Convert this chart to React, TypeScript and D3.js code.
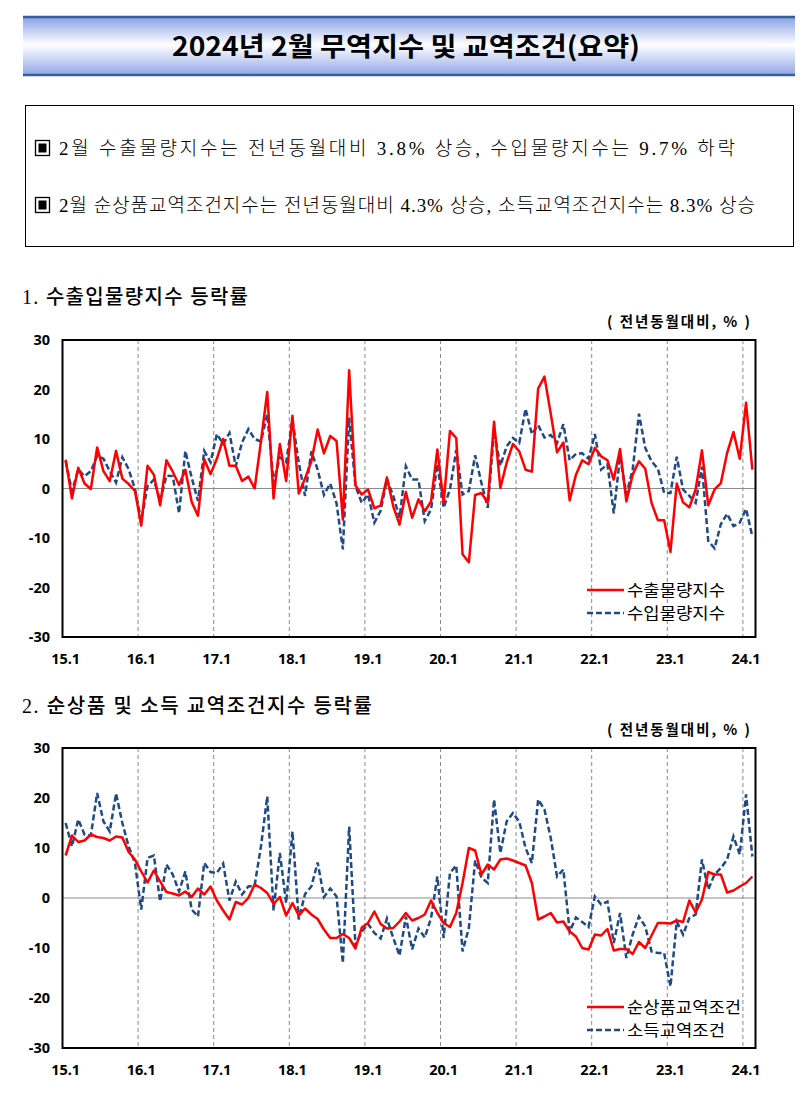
import React from "react";
import * as d3 from "d3";

const yearLabels = ["15.1", "16.1", "17.1", "18.1", "19.1", "20.1", "21.1", "22.1", "23.1", "24.1"];
const yTicks = [-30, -20, -10, 0, 10, 20, 30];

// 2015.1 ~ 2024.2 monthly, YoY %
const exportVolume = [
  5.8, -2, 4.2, 1, -0.1, 8.3, 3.5, 1.5, 7.6, 2, 0.9, -0.5,
  -7.5, 4.6, 2.8, -3.4, 5.7, 3.4, 0.7, 3.8, -2.7, -5.5, 5.9, 2.9,
  6, 10, 4.6, 4.6, 1.5, 2.4, 0, 9.5, 19.5, -2, 9, 1.5,
  14.7, -1, 2, 5.5, 11.9, 7.1, 10.6, 9.6, -6.3, 23.9, 0.6, -1.2,
  -0.2, -4, -3.4, 2.2, -3.6, -7.3, -0.7, -5.9, -2.2, -4.6, -2.6, 7.9,
  -2.9, 11.6, 10.2, -13.3, -14.9, -1.3, -0.9, -2.9, 13.5, 0.1, 5.2, 9,
  7.5, 3.8, 3.4, 20.2, 22.6, 15.1, 7.3, 9.3, -2.4, 2.8, 5.7, 4.9,
  8.2, 6.5, 5.7, 1.8, 8, -2.6, 2.8, 5.5, 4, -2.9, -6.4, -6.4,
  -12.8, 1, -2.8, -3.8, -0.2, 7.7, -3.4, -0.2, 1.1, 7.2, 11.4, 6,
  17.3, 3.8,
];
const importVolume = [
  5.5, -0.5, 3.8, 2.5, 3.5, 6.6, 6, 3.5, 1.2, 6.3, 3.9, -0.1,
  -6.5, 0.5, 1.8, -2.5, 2.6, 2.5, -5, 7.6, 2.2, -2.5, 7.6, 5.3,
  11, 9, 11.2, 4.5, 9.3, 12, 10, 9.5, 15, 1.2, 6.3, 5.3,
  13.9, 5.2, -1.5, 7.5, 3.8, -1.3, 1, -3, -12.3, 14.3, 0.5, -2.9,
  -1.2, -6.9, -4.5, 1.8, -1.5, -5.9, 4.5, 1.8, 1.8, -6.6, -4.2, 4.9,
  -3.9, -0.2, 7.8, -1.2, -0.5, 6.7, 1.1, -3.9, 11.6, 4.6, 8.5, 10.2,
  9.2, 16.1, 11, 12.8, 10.3, 10.8, 9.2, 13, 5.7, 7, 7.1, 6,
  11, 3.8, 4.9, -5, 6.5, -1.2, 3.8, 15.1, 8.2, 5.5, 4, -0.9,
  -0.9, 6.4, -0.2, -1.5, -2.9, 4.4, -10.6, -12.1, -7.2, -5.1, -7.6, -6.9,
  -4.1, -9.7,
];
const netTerms = [
  8.5, 12.5, 11.2, 11.5, 12.7, 12.2, 12, 11.5, 12.3, 12.1, 9.2, 7.7,
  5.3, 3.1, 5.5, 3.3, 1.2, 0.9, 0.5, 1.3, 0.2, 1.9, 0.7, 2.3,
  -0.5, -2.5, -4.3, -0.8, -1.3, 0, 2.7, 2, 1, -1.2, 0.2, -3.5,
  -1, -3.5, -2.1, -3.3, -4.2, -6.3, -8, -8, -7.2, -8, -10.1, -5.9,
  -5, -2.7, -5.2, -6.1, -6, -4.7, -3, -4.5, -4, -3.3, -0.5, -3,
  -5, -5.8, -3, 3, 10, 9.5, 4.7, 6.7, 5.7, 7.7, 7.9, 7.5,
  7, 6.5, 3, -4.3, -3.7, -3, -4.9, -4.7, -6.7, -7.7, -10, -10.3,
  -7.3, -7.5, -6.2, -10.5, -10.2, -10.2, -11.2, -8.8, -10, -7.5, -5, -5,
  -5.1, -4.5, -4.8, -0.5, -2.9, -0.3, 5.2, 4.7, 4.7, 1.1, 1.5, 2.3,
  3, 4.3,
];
const incomeTerms = [
  15, 10.3, 15.7, 12.7, 12.5, 21, 15.3, 13.3, 20.9, 15, 10.3, 7,
  -2.3, 8, 8.5, -0.7, 6.7, 4.7, 1.3, 5.3, -2.3, -3.7, 7, 5.2,
  5, 6.9, -0.5, 3.3, 0.7, 2.3, 2.5, 10.3, 20.3, -2.5, 9, -1,
  13.3, -4.3, 0.8, 2.3, 7.1, 0.2, 1.9, 0.3, -13, 14.3, -9.5, -6.7,
  -5.2, -7, -8.1, -4.1, -8, -11.5, -3.7, -10.3, -6.1, -7.9, -4, 4.3,
  -8, 5, 6.5, -10.7, -6, 7.5, 4.1, 3, 19.7, 9, 15.3, 17,
  15.3, 10, 7, 19.7, 17.7, 12, 4.3, 5.7, -6.7, -3.9, -4.8, -5.8,
  0.3, -1.3, -0.7, -9, -3, -12, -7.3, -3.7, -5.7, -10.7, -11, -11,
  -17.7, -4.7, -7.3, -4, -3.3, 7.7, 1.7, 4.7, 6, 7.7, 12.3, 8.7,
  20.7, 8.3,
];

const SANS = "'Noto Sans CJK KR', 'Noto Sans', sans-serif";
const SERIF = "'Liberation Serif', 'Noto Sans CJK KR', serif";
const LABEL = "'Noto Sans', 'Noto Sans CJK KR', sans-serif";

const X0 = 62.5;
const X1 = 755.5;
const N = exportVolume.length;

type ChartProps = {
  top: number;
  bottom: number;
  a: number[];
  b: number[];
  nameA: string;
  nameB: string;
  lenA: number;
  lenB: number;
  legendY: number;
};

function Chart({ top, bottom, a, b, nameA, nameB, lenA, lenB, legendY }: ChartProps) {
  const xl = d3.scaleLinear().domain([0, N]).range([X0, X1]);
  const y = d3.scaleLinear().domain([-30, 30]).range([bottom, top]);
  const line = d3
    .line<number>()
    .x((_, i) => xl(i + 0.5))
    .y((d) => y(d));
  return (
    <g>
      {yearLabels.slice(1).map((_, k) => (
        <line
          key={"g" + k}
          x1={xl((k + 1) * 12)}
          x2={xl((k + 1) * 12)}
          y1={top}
          y2={bottom}
          stroke="#8a8a8a"
          strokeWidth={1}
          strokeDasharray="4,3"
        />
      ))}
      <line x1={X0} x2={X1} y1={y(0)} y2={y(0)} stroke="#8c8c8c" strokeWidth={1.2} />
      <path d={line(b) || ""} fill="none" stroke="#1f4a86" strokeWidth={2.5} strokeDasharray="6,3" />
      <path d={line(a) || ""} fill="none" stroke="#ff0000" strokeWidth={2.5} strokeLinejoin="round" />
      <rect x={X0} y={top} width={X1 - X0} height={bottom - top} fill="none" stroke="#000" strokeWidth={2} />
      {yTicks.map((t) => (
        <text
          key={"y" + t}
          x={50}
          y={y(t)}
          dy="0.36em"
          textAnchor="end"
          fontFamily={LABEL}
          fontWeight="bold"
          fontSize={14.5}
        >
          {t}
        </text>
      ))}
      {yearLabels.map((l, k) => (
        <text
          key={"x" + l}
          x={xl(k * 12 + 0.5)}
          y={bottom + 27}
          textAnchor="middle"
          fontFamily={LABEL}
          fontWeight="bold"
          fontSize={14.5}
        >
          {l}
        </text>
      ))}
      <line x1={587} x2={624} y1={legendY} y2={legendY} stroke="#ff0000" strokeWidth={2.5} />
      <text x={627} y={legendY} dy="0.36em" fontFamily={SANS} fontSize={16.4} textLength={lenA} lengthAdjust="spacingAndGlyphs">
        {nameA}
      </text>
      <line x1={587} x2={624} y1={legendY + 23} y2={legendY + 23} stroke="#1f4a86" strokeWidth={2.5} strokeDasharray="6,3" />
      <text x={627} y={legendY + 23} dy="0.36em" fontFamily={SANS} fontSize={16.4} textLength={lenB} lengthAdjust="spacingAndGlyphs">
        {nameB}
      </text>
      <text
        x={607}
        y={top - 13}
        fontFamily={SANS}
        fontWeight="bold"
        fontSize={14.5}
        textLength={143}
        lengthAdjust="spacing"
      >
        ( 전년동월대비, % )
      </text>
    </g>
  );
}

function CheckBox({ x, y }: { x: number; y: number }) {
  return (
    <g>
      <rect x={x + 0.5} y={y - 7.5} width={14} height={15} fill="#fff" stroke="#000" strokeWidth={1.3} />
      <rect x={x + 3.5} y={y - 4.5} width={8} height={9} fill="#000" />
    </g>
  );
}

export default function App() {
  return (
    <svg
      width={805}
      height={1099}
      viewBox="0 0 805 1099"
      style={{ position: "absolute", left: 0, top: 0, background: "#fff" }}
    >
      <defs>
        <linearGradient id="banner" x1="0" y1="0" x2="0" y2="1">
          <stop offset="0%" stopColor="#8aa1e6" />
          <stop offset="48%" stopColor="#ffffff" />
          <stop offset="100%" stopColor="#91a7e8" />
        </linearGradient>
      </defs>
      <rect x={0} y={0} width={805} height={1099} fill="#fff" />
      <rect x={23} y={17} width={772} height={58} fill="url(#banner)" />
      <line x1={23} x2={795} y1={17} y2={17} stroke="#365f99" strokeWidth={2.5} />
      <line x1={23} x2={795} y1={75} y2={75} stroke="#365f99" strokeWidth={2.5} />
      <text
        x={172}
        y={46}
        dy="0.36em"
        fontFamily={SANS}
        fontWeight="bold"
        fontSize={26.5}
        textLength={468}
        lengthAdjust="spacingAndGlyphs"
      >
        2024년 2월 무역지수 및 교역조건(요약)
      </text>

      <rect x={25.5} y={105.5} width={768} height={141} fill="none" stroke="#000" strokeWidth={1} />
      <CheckBox x={35} y={148} />
      <text
        x={59}
        y={148}
        dy="0.36em"
        fontFamily={SERIF}
        fontSize={19}
        fontWeight={300}
        textLength={676}
        lengthAdjust="spacing"
      >
        2월 수출물량지수는 전년동월대비 3.8% 상승, 수입물량지수는 9.7% 하락
      </text>
      <CheckBox x={35} y={205} />
      <text
        x={59}
        y={205}
        dy="0.36em"
        fontFamily={SERIF}
        fontSize={19}
        fontWeight={300}
        textLength={696}
        lengthAdjust="spacing"
      >
        2월 순상품교역조건지수는 전년동월대비 4.3% 상승, 소득교역조건지수는 8.3% 상승
      </text>

      <text
        x={22}
        y={297}
        dy="0.36em"
        fontFamily={SERIF}
        fontSize={20}
        fontWeight={500}
        textLength={226}
        lengthAdjust="spacing"
      >
        1. 수출입물량지수 등락률
      </text>
      <Chart
        top={340}
        bottom={637}
        a={exportVolume}
        b={importVolume}
        nameA="수출물량지수"
        nameB="수입물량지수"
        lenA={98}
        lenB={98}
        legendY={590}
      />

      <text
        x={22}
        y={706}
        dy="0.36em"
        fontFamily={SERIF}
        fontSize={20}
        fontWeight={500}
        textLength={350}
        lengthAdjust="spacing"
      >
        2. 순상품 및 소득 교역조건지수 등락률
      </text>
      <Chart
        top={748}
        bottom={1048}
        a={netTerms}
        b={incomeTerms}
        nameA="순상품교역조건"
        nameB="소득교역조건"
        lenA={114}
        lenB={98}
        legendY={1007}
      />
    </svg>
  );
}
